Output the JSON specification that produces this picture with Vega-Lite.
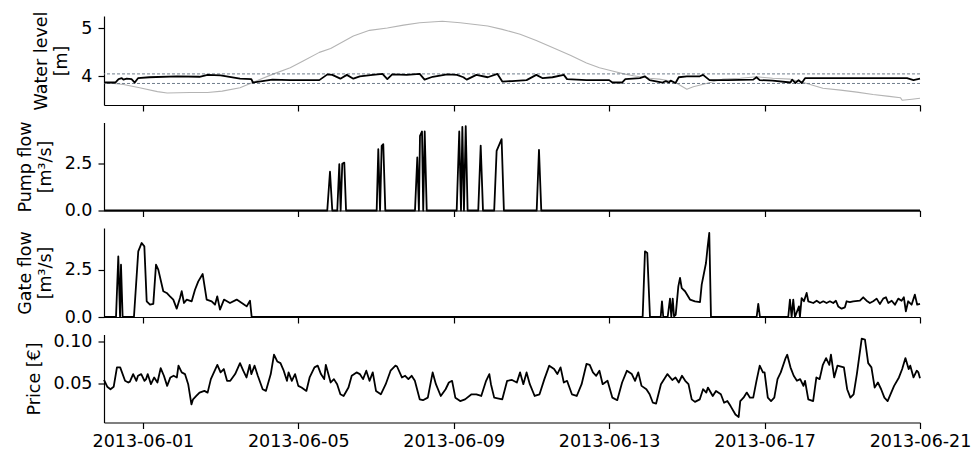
{
  "$schema": "https://vega.github.io/schema/vega-lite/v6.json",
  "background": "white",
  "padding": {"left": 16, "top": 11, "right": 4, "bottom": 2},
  "spacing": 17.5,
  "bounds": "flush",
  "resolve": {"scale": {"x": "independent", "y": "independent"}},
  "config": {
    "font": "DejaVu Sans",
    "view": {"stroke": null},
    "line": {"strokeJoin": "round"},
    "axis": {
      "grid": false,
      "domainColor": "#000",
      "domainWidth": 1.2,
      "tickColor": "#000",
      "tickWidth": 1.2,
      "tickSize": 6,
      "labelFont": "DejaVu Sans",
      "labelFontSize": 17.5,
      "labelColor": "#000",
      "labelPadding": 6,
      "titleFont": "DejaVu Sans",
      "titleFontSize": 17.5,
      "titleFontWeight": "normal",
      "titleColor": "#000",
      "titlePadding": 10,
      "titleLineHeight": 20
    },
    "axisX": {"labelPadding": 4}
  },
  "datasets": {
    "outerLevel": [
      {"t": "2013-05-31T00:00", "level": 3.87},
      {"t": "2013-05-31T12:00", "level": 3.83},
      {"t": "2013-05-31T22:00", "level": 3.76},
      {"t": "2013-06-01T09:00", "level": 3.68},
      {"t": "2013-06-01T15:00", "level": 3.65},
      {"t": "2013-06-02T05:00", "level": 3.66},
      {"t": "2013-06-02T16:00", "level": 3.66},
      {"t": "2013-06-03T01:00", "level": 3.69},
      {"t": "2013-06-03T12:00", "level": 3.76},
      {"t": "2013-06-03T22:00", "level": 3.90},
      {"t": "2013-06-04T08:00", "level": 4.04},
      {"t": "2013-06-04T19:00", "level": 4.18},
      {"t": "2013-06-05T03:00", "level": 4.32},
      {"t": "2013-06-05T13:00", "level": 4.50},
      {"t": "2013-06-05T20:00", "level": 4.58},
      {"t": "2013-06-06T10:00", "level": 4.84},
      {"t": "2013-06-06T20:00", "level": 4.96},
      {"t": "2013-06-07T07:00", "level": 5.01},
      {"t": "2013-06-07T17:00", "level": 5.07},
      {"t": "2013-06-08T03:00", "level": 5.12},
      {"t": "2013-06-08T17:00", "level": 5.15},
      {"t": "2013-06-09T04:00", "level": 5.12},
      {"t": "2013-06-09T21:00", "level": 5.05},
      {"t": "2013-06-10T06:00", "level": 4.98},
      {"t": "2013-06-10T17:00", "level": 4.88},
      {"t": "2013-06-11T03:00", "level": 4.75},
      {"t": "2013-06-11T13:00", "level": 4.60},
      {"t": "2013-06-12T00:00", "level": 4.44},
      {"t": "2013-06-12T10:00", "level": 4.28},
      {"t": "2013-06-12T18:00", "level": 4.18},
      {"t": "2013-06-13T02:00", "level": 4.11},
      {"t": "2013-06-13T09:00", "level": 4.05},
      {"t": "2013-06-13T15:00", "level": 4.01},
      {"t": "2013-06-13T19:00", "level": 3.99},
      {"t": "2013-06-14T01:00", "level": 3.96},
      {"t": "2013-06-14T07:00", "level": 3.94},
      {"t": "2013-06-14T14:00", "level": 3.90},
      {"t": "2013-06-14T18:00", "level": 3.85},
      {"t": "2013-06-15T00:00", "level": 3.73},
      {"t": "2013-06-15T04:00", "level": 3.78},
      {"t": "2013-06-15T12:00", "level": 3.85},
      {"t": "2013-06-15T22:00", "level": 3.94},
      {"t": "2013-06-16T09:00", "level": 3.96},
      {"t": "2013-06-16T19:00", "level": 3.99},
      {"t": "2013-06-17T05:00", "level": 3.96},
      {"t": "2013-06-17T16:00", "level": 3.94},
      {"t": "2013-06-18T00:00", "level": 3.87},
      {"t": "2013-06-18T12:00", "level": 3.75},
      {"t": "2013-06-18T23:00", "level": 3.71},
      {"t": "2013-06-19T09:00", "level": 3.67},
      {"t": "2013-06-19T19:00", "level": 3.62},
      {"t": "2013-06-20T05:00", "level": 3.58},
      {"t": "2013-06-20T12:00", "level": 3.55},
      {"t": "2013-06-20T13:00", "level": 3.50},
      {"t": "2013-06-20T19:00", "level": 3.52},
      {"t": "2013-06-21T00:00", "level": 3.54}
    ],
    "innerLevel": [
      {"t": "2013-05-31T00:00", "level": 3.87},
      {"t": "2013-05-31T07:00", "level": 3.87},
      {"t": "2013-05-31T09:00", "level": 3.94},
      {"t": "2013-05-31T11:00", "level": 3.96},
      {"t": "2013-05-31T12:00", "level": 3.93},
      {"t": "2013-05-31T14:00", "level": 3.95},
      {"t": "2013-05-31T17:00", "level": 3.94},
      {"t": "2013-05-31T19:00", "level": 3.87},
      {"t": "2013-05-31T21:00", "level": 3.96},
      {"t": "2013-06-01T04:00", "level": 3.98},
      {"t": "2013-06-01T21:00", "level": 4.00},
      {"t": "2013-06-02T11:00", "level": 3.99},
      {"t": "2013-06-02T16:00", "level": 4.03},
      {"t": "2013-06-03T00:00", "level": 4.02},
      {"t": "2013-06-03T12:00", "level": 3.95},
      {"t": "2013-06-03T19:00", "level": 3.94},
      {"t": "2013-06-03T20:00", "level": 3.87},
      {"t": "2013-06-04T08:00", "level": 3.93},
      {"t": "2013-06-04T19:00", "level": 3.92},
      {"t": "2013-06-05T13:00", "level": 3.92},
      {"t": "2013-06-05T18:00", "level": 4.04},
      {"t": "2013-06-05T21:00", "level": 4.03},
      {"t": "2013-06-06T02:00", "level": 3.95},
      {"t": "2013-06-06T06:00", "level": 4.03},
      {"t": "2013-06-06T10:00", "level": 3.95},
      {"t": "2013-06-06T14:00", "level": 4.00},
      {"t": "2013-06-06T22:00", "level": 4.03},
      {"t": "2013-06-07T04:00", "level": 4.05},
      {"t": "2013-06-07T07:00", "level": 3.94},
      {"t": "2013-06-07T10:00", "level": 4.04},
      {"t": "2013-06-07T19:00", "level": 4.03},
      {"t": "2013-06-08T03:00", "level": 4.05},
      {"t": "2013-06-08T06:00", "level": 3.93},
      {"t": "2013-06-08T11:00", "level": 3.99},
      {"t": "2013-06-08T20:00", "level": 4.04},
      {"t": "2013-06-09T02:00", "level": 4.03},
      {"t": "2013-06-09T06:00", "level": 3.98},
      {"t": "2013-06-09T08:00", "level": 3.93},
      {"t": "2013-06-09T14:00", "level": 4.03},
      {"t": "2013-06-09T21:00", "level": 3.98},
      {"t": "2013-06-10T03:00", "level": 4.05},
      {"t": "2013-06-10T06:00", "level": 3.89},
      {"t": "2013-06-10T12:00", "level": 3.90},
      {"t": "2013-06-10T21:00", "level": 3.92},
      {"t": "2013-06-11T03:00", "level": 4.03},
      {"t": "2013-06-11T07:00", "level": 3.96},
      {"t": "2013-06-11T13:00", "level": 3.98},
      {"t": "2013-06-11T20:00", "level": 4.03},
      {"t": "2013-06-11T22:00", "level": 3.94},
      {"t": "2013-06-12T10:00", "level": 3.92},
      {"t": "2013-06-13T00:00", "level": 3.92},
      {"t": "2013-06-13T02:00", "level": 3.87},
      {"t": "2013-06-13T08:00", "level": 3.87},
      {"t": "2013-06-13T10:00", "level": 3.94},
      {"t": "2013-06-13T19:00", "level": 3.96},
      {"t": "2013-06-13T22:00", "level": 4.00},
      {"t": "2013-06-14T01:00", "level": 3.92},
      {"t": "2013-06-14T09:00", "level": 3.87},
      {"t": "2013-06-14T11:00", "level": 3.90},
      {"t": "2013-06-14T13:00", "level": 3.87},
      {"t": "2013-06-14T14:00", "level": 3.91},
      {"t": "2013-06-14T17:00", "level": 3.86},
      {"t": "2013-06-14T19:00", "level": 3.98},
      {"t": "2013-06-15T00:00", "level": 4.00},
      {"t": "2013-06-15T08:00", "level": 4.00},
      {"t": "2013-06-15T10:00", "level": 4.03},
      {"t": "2013-06-15T14:00", "level": 3.92},
      {"t": "2013-06-16T01:00", "level": 3.92},
      {"t": "2013-06-16T17:00", "level": 3.93},
      {"t": "2013-06-16T19:00", "level": 3.98},
      {"t": "2013-06-16T21:00", "level": 3.92},
      {"t": "2013-06-17T05:00", "level": 3.91},
      {"t": "2013-06-17T16:00", "level": 3.87},
      {"t": "2013-06-17T17:00", "level": 3.93},
      {"t": "2013-06-17T19:00", "level": 3.86},
      {"t": "2013-06-17T21:00", "level": 3.92},
      {"t": "2013-06-17T23:00", "level": 3.86},
      {"t": "2013-06-18T01:00", "level": 3.96},
      {"t": "2013-06-18T23:00", "level": 3.96},
      {"t": "2013-06-19T19:00", "level": 3.96},
      {"t": "2013-06-20T16:00", "level": 3.96},
      {"t": "2013-06-20T20:00", "level": 3.92},
      {"t": "2013-06-21T00:00", "level": 3.95}
    ],
    "bounds": [
      {"level": 3.85},
      {"level": 4.05}
    ],
    "pump": [
      {"t": "2013-05-31T00:00", "flow": 0},
      {"t": "2013-06-05T17:54", "flow": 0},
      {"t": "2013-06-05T19:35", "flow": 2.07},
      {"t": "2013-06-05T21:00", "flow": 0},
      {"t": "2013-06-06T00:05", "flow": 0},
      {"t": "2013-06-06T01:20", "flow": 2.47},
      {"t": "2013-06-06T02:10", "flow": 0},
      {"t": "2013-06-06T03:10", "flow": 2.50},
      {"t": "2013-06-06T04:25", "flow": 2.56},
      {"t": "2013-06-06T05:30", "flow": 0},
      {"t": "2013-06-07T00:25", "flow": 0},
      {"t": "2013-06-07T01:25", "flow": 3.27},
      {"t": "2013-06-07T02:30", "flow": 0},
      {"t": "2013-06-07T03:30", "flow": 3.45},
      {"t": "2013-06-07T04:30", "flow": 3.54},
      {"t": "2013-06-07T05:45", "flow": 0},
      {"t": "2013-06-08T00:05", "flow": 0},
      {"t": "2013-06-08T01:30", "flow": 2.83},
      {"t": "2013-06-08T02:30", "flow": 0},
      {"t": "2013-06-08T03:10", "flow": 3.99},
      {"t": "2013-06-08T04:25", "flow": 4.22},
      {"t": "2013-06-08T05:10", "flow": 0},
      {"t": "2013-06-08T06:05", "flow": 4.22},
      {"t": "2013-06-08T07:20", "flow": 0},
      {"t": "2013-06-09T01:50", "flow": 0},
      {"t": "2013-06-09T03:25", "flow": 4.22},
      {"t": "2013-06-09T04:30", "flow": 0},
      {"t": "2013-06-09T05:20", "flow": 4.47},
      {"t": "2013-06-09T06:20", "flow": 0},
      {"t": "2013-06-09T07:25", "flow": 4.51},
      {"t": "2013-06-09T08:35", "flow": 0},
      {"t": "2013-06-09T15:10", "flow": 0},
      {"t": "2013-06-09T16:40", "flow": 3.47},
      {"t": "2013-06-09T18:05", "flow": 0},
      {"t": "2013-06-10T01:00", "flow": 0},
      {"t": "2013-06-10T02:30", "flow": 3.18},
      {"t": "2013-06-10T05:35", "flow": 3.81},
      {"t": "2013-06-10T07:00", "flow": 0},
      {"t": "2013-06-11T03:15", "flow": 0},
      {"t": "2013-06-11T04:40", "flow": 3.24},
      {"t": "2013-06-11T06:05", "flow": 0},
      {"t": "2013-06-21T00:00", "flow": 0}
    ],
    "gate": [
      {"t": "2013-05-31T00:00", "flow": 0},
      {"t": "2013-05-31T07:25", "flow": 0},
      {"t": "2013-05-31T08:50", "flow": 3.20},
      {"t": "2013-05-31T09:55", "flow": 0},
      {"t": "2013-05-31T10:30", "flow": 2.76},
      {"t": "2013-05-31T11:30", "flow": 0},
      {"t": "2013-05-31T18:30", "flow": 0},
      {"t": "2013-05-31T21:10", "flow": 3.47},
      {"t": "2013-05-31T23:17", "flow": 3.91},
      {"t": "2013-06-01T00:55", "flow": 3.73},
      {"t": "2013-06-01T02:22", "flow": 0.83},
      {"t": "2013-06-01T04:25", "flow": 0.65},
      {"t": "2013-06-01T06:27", "flow": 0.69},
      {"t": "2013-06-01T08:07", "flow": 2.76},
      {"t": "2013-06-01T09:32", "flow": 2.50},
      {"t": "2013-06-01T12:37", "flow": 1.36},
      {"t": "2013-06-01T14:43", "flow": 1.27},
      {"t": "2013-06-01T16:46", "flow": 1.09},
      {"t": "2013-06-01T18:48", "flow": 0.92},
      {"t": "2013-06-01T20:54", "flow": 0.44},
      {"t": "2013-06-01T22:56", "flow": 1.00},
      {"t": "2013-06-02T00:00", "flow": 1.36},
      {"t": "2013-06-02T01:25", "flow": 0.74},
      {"t": "2013-06-02T03:06", "flow": 0.92},
      {"t": "2013-06-02T06:10", "flow": 0.83},
      {"t": "2013-06-02T08:12", "flow": 1.44},
      {"t": "2013-06-02T10:14", "flow": 1.88},
      {"t": "2013-06-02T12:57", "flow": 2.27},
      {"t": "2013-06-02T15:25", "flow": 0.92},
      {"t": "2013-06-02T18:30", "flow": 0.83},
      {"t": "2013-06-02T20:33", "flow": 0.65},
      {"t": "2013-06-02T21:58", "flow": 1.09},
      {"t": "2013-06-02T23:38", "flow": 0.39},
      {"t": "2013-06-03T02:07", "flow": 0.92},
      {"t": "2013-06-03T05:49", "flow": 0.74},
      {"t": "2013-06-03T09:57", "flow": 0.92},
      {"t": "2013-06-03T14:02", "flow": 0.69},
      {"t": "2013-06-03T16:08", "flow": 0.56},
      {"t": "2013-06-03T18:10", "flow": 0.86},
      {"t": "2013-06-03T19:13", "flow": 0},
      {"t": "2013-06-13T20:42", "flow": 0},
      {"t": "2013-06-13T22:08", "flow": 3.47},
      {"t": "2013-06-13T23:33", "flow": 3.38},
      {"t": "2013-06-14T01:13", "flow": 0},
      {"t": "2013-06-14T07:50", "flow": 0},
      {"t": "2013-06-14T08:38", "flow": 0.83},
      {"t": "2013-06-14T09:26", "flow": 0},
      {"t": "2013-06-14T12:09", "flow": 0},
      {"t": "2013-06-14T13:35", "flow": 0.97},
      {"t": "2013-06-14T14:24", "flow": 0},
      {"t": "2013-06-14T15:16", "flow": 0.97},
      {"t": "2013-06-14T16:04", "flow": 0.04},
      {"t": "2013-06-14T17:07", "flow": 0.12},
      {"t": "2013-06-14T18:44", "flow": 1.62},
      {"t": "2013-06-14T19:47", "flow": 2.06},
      {"t": "2013-06-14T20:50", "flow": 1.53},
      {"t": "2013-06-14T22:52", "flow": 1.36},
      {"t": "2013-06-15T01:57", "flow": 0.92},
      {"t": "2013-06-15T05:02", "flow": 0.83},
      {"t": "2013-06-15T08:07", "flow": 0.79},
      {"t": "2013-06-15T09:10", "flow": 1.71},
      {"t": "2013-06-15T11:49", "flow": 2.85},
      {"t": "2013-06-15T12:52", "flow": 3.73},
      {"t": "2013-06-15T13:51", "flow": 4.44},
      {"t": "2013-06-15T14:54", "flow": 0},
      {"t": "2013-06-16T19:06", "flow": 0},
      {"t": "2013-06-16T20:06", "flow": 0.69},
      {"t": "2013-06-16T21:09", "flow": 0},
      {"t": "2013-06-17T14:38", "flow": 0},
      {"t": "2013-06-17T15:40", "flow": 0.92},
      {"t": "2013-06-17T16:43", "flow": 0},
      {"t": "2013-06-17T17:43", "flow": 0.92},
      {"t": "2013-06-17T18:46", "flow": 0},
      {"t": "2013-06-17T21:14", "flow": 0.56},
      {"t": "2013-06-17T21:50", "flow": 0},
      {"t": "2013-06-17T22:53", "flow": 1.00},
      {"t": "2013-06-18T00:19", "flow": 0.83},
      {"t": "2013-06-18T01:59", "flow": 1.27},
      {"t": "2013-06-18T03:00", "flow": 0.83},
      {"t": "2013-06-18T06:05", "flow": 0.74},
      {"t": "2013-06-18T08:11", "flow": 0.86},
      {"t": "2013-06-18T10:13", "flow": 0.74},
      {"t": "2013-06-18T12:16", "flow": 0.83},
      {"t": "2013-06-18T14:18", "flow": 0.74},
      {"t": "2013-06-18T16:20", "flow": 0.83},
      {"t": "2013-06-18T18:24", "flow": 0.74},
      {"t": "2013-06-18T20:04", "flow": 0.86},
      {"t": "2013-06-18T21:29", "flow": 0.56},
      {"t": "2013-06-18T23:35", "flow": 0.44},
      {"t": "2013-06-19T01:37", "flow": 0.51},
      {"t": "2013-06-19T02:40", "flow": 0.83},
      {"t": "2013-06-19T04:42", "flow": 0.79},
      {"t": "2013-06-19T06:46", "flow": 0.83},
      {"t": "2013-06-19T10:54", "flow": 0.86},
      {"t": "2013-06-19T12:56", "flow": 1.04},
      {"t": "2013-06-19T15:00", "flow": 0.86},
      {"t": "2013-06-19T17:03", "flow": 0.74},
      {"t": "2013-06-19T19:07", "flow": 0.83},
      {"t": "2013-06-19T21:12", "flow": 0.97},
      {"t": "2013-06-19T23:14", "flow": 0.69},
      {"t": "2013-06-20T01:17", "flow": 0.97},
      {"t": "2013-06-20T02:58", "flow": 1.04},
      {"t": "2013-06-20T04:24", "flow": 0.74},
      {"t": "2013-06-20T06:31", "flow": 0.86},
      {"t": "2013-06-20T08:31", "flow": 0.65},
      {"t": "2013-06-20T10:35", "flow": 0.97},
      {"t": "2013-06-20T12:37", "flow": 0.86},
      {"t": "2013-06-20T14:02", "flow": 1.04},
      {"t": "2013-06-20T15:16", "flow": 0.30},
      {"t": "2013-06-20T16:42", "flow": 0.83},
      {"t": "2013-06-20T18:48", "flow": 0.65},
      {"t": "2013-06-20T20:50", "flow": 1.18},
      {"t": "2013-06-20T22:16", "flow": 0.65},
      {"t": "2013-06-21T00:00", "flow": 0.69}
    ],
    "price": [
      {"t": "2013-05-31T00:00", "price": 0.054},
      {"t": "2013-05-31T02:00", "price": 0.046},
      {"t": "2013-05-31T04:00", "price": 0.043},
      {"t": "2013-05-31T06:00", "price": 0.046},
      {"t": "2013-05-31T08:00", "price": 0.069},
      {"t": "2013-05-31T10:00", "price": 0.069},
      {"t": "2013-05-31T13:00", "price": 0.053},
      {"t": "2013-05-31T15:00", "price": 0.051},
      {"t": "2013-05-31T16:00", "price": 0.052},
      {"t": "2013-05-31T18:00", "price": 0.061},
      {"t": "2013-05-31T20:00", "price": 0.053},
      {"t": "2013-05-31T21:00", "price": 0.059},
      {"t": "2013-05-31T23:00", "price": 0.061},
      {"t": "2013-06-01T01:00", "price": 0.053},
      {"t": "2013-06-01T02:00", "price": 0.055},
      {"t": "2013-06-01T03:00", "price": 0.061},
      {"t": "2013-06-01T05:00", "price": 0.049},
      {"t": "2013-06-01T07:00", "price": 0.057},
      {"t": "2013-06-01T09:00", "price": 0.051},
      {"t": "2013-06-01T11:00", "price": 0.068},
      {"t": "2013-06-01T13:00", "price": 0.059},
      {"t": "2013-06-01T15:00", "price": 0.047},
      {"t": "2013-06-01T17:00", "price": 0.057},
      {"t": "2013-06-01T19:00", "price": 0.059},
      {"t": "2013-06-01T21:00", "price": 0.057},
      {"t": "2013-06-01T22:00", "price": 0.071},
      {"t": "2013-06-02T00:00", "price": 0.063},
      {"t": "2013-06-02T02:00", "price": 0.061},
      {"t": "2013-06-02T04:00", "price": 0.049},
      {"t": "2013-06-02T06:00", "price": 0.025},
      {"t": "2013-06-02T07:00", "price": 0.031},
      {"t": "2013-06-02T09:00", "price": 0.035},
      {"t": "2013-06-02T11:00", "price": 0.039},
      {"t": "2013-06-02T14:00", "price": 0.041},
      {"t": "2013-06-02T16:00", "price": 0.039},
      {"t": "2013-06-02T18:00", "price": 0.055},
      {"t": "2013-06-02T22:00", "price": 0.072},
      {"t": "2013-06-03T00:00", "price": 0.063},
      {"t": "2013-06-03T02:00", "price": 0.067},
      {"t": "2013-06-03T04:00", "price": 0.053},
      {"t": "2013-06-03T06:00", "price": 0.053},
      {"t": "2013-06-03T09:00", "price": 0.061},
      {"t": "2013-06-03T12:00", "price": 0.074},
      {"t": "2013-06-03T14:00", "price": 0.065},
      {"t": "2013-06-03T16:00", "price": 0.057},
      {"t": "2013-06-03T18:00", "price": 0.072},
      {"t": "2013-06-03T19:00", "price": 0.061},
      {"t": "2013-06-03T21:00", "price": 0.071},
      {"t": "2013-06-03T23:00", "price": 0.059},
      {"t": "2013-06-04T02:00", "price": 0.043},
      {"t": "2013-06-04T04:00", "price": 0.041},
      {"t": "2013-06-04T07:00", "price": 0.061},
      {"t": "2013-06-04T09:00", "price": 0.084},
      {"t": "2013-06-04T11:00", "price": 0.076},
      {"t": "2013-06-04T13:00", "price": 0.074},
      {"t": "2013-06-04T15:00", "price": 0.065},
      {"t": "2013-06-04T17:00", "price": 0.053},
      {"t": "2013-06-04T18:00", "price": 0.063},
      {"t": "2013-06-04T20:00", "price": 0.053},
      {"t": "2013-06-04T22:00", "price": 0.061},
      {"t": "2013-06-05T00:00", "price": 0.047},
      {"t": "2013-06-05T02:00", "price": 0.045},
      {"t": "2013-06-05T05:00", "price": 0.041},
      {"t": "2013-06-05T07:00", "price": 0.057},
      {"t": "2013-06-05T10:00", "price": 0.069},
      {"t": "2013-06-05T12:00", "price": 0.071},
      {"t": "2013-06-05T14:00", "price": 0.061},
      {"t": "2013-06-05T16:00", "price": 0.055},
      {"t": "2013-06-05T17:00", "price": 0.072},
      {"t": "2013-06-05T20:00", "price": 0.051},
      {"t": "2013-06-05T22:00", "price": 0.055},
      {"t": "2013-06-06T00:00", "price": 0.049},
      {"t": "2013-06-06T02:00", "price": 0.037},
      {"t": "2013-06-06T04:00", "price": 0.035},
      {"t": "2013-06-06T07:00", "price": 0.045},
      {"t": "2013-06-06T09:00", "price": 0.059},
      {"t": "2013-06-06T12:00", "price": 0.063},
      {"t": "2013-06-06T14:00", "price": 0.061},
      {"t": "2013-06-06T16:00", "price": 0.055},
      {"t": "2013-06-06T18:00", "price": 0.065},
      {"t": "2013-06-06T20:00", "price": 0.053},
      {"t": "2013-06-06T22:00", "price": 0.063},
      {"t": "2013-06-07T00:00", "price": 0.041},
      {"t": "2013-06-07T03:00", "price": 0.037},
      {"t": "2013-06-07T06:00", "price": 0.049},
      {"t": "2013-06-07T09:00", "price": 0.065},
      {"t": "2013-06-07T12:00", "price": 0.071},
      {"t": "2013-06-07T13:00", "price": 0.070},
      {"t": "2013-06-07T16:00", "price": 0.057},
      {"t": "2013-06-07T18:00", "price": 0.059},
      {"t": "2013-06-07T20:00", "price": 0.055},
      {"t": "2013-06-07T22:00", "price": 0.059},
      {"t": "2013-06-08T00:00", "price": 0.053},
      {"t": "2013-06-08T03:00", "price": 0.031},
      {"t": "2013-06-08T05:00", "price": 0.030},
      {"t": "2013-06-08T08:00", "price": 0.033},
      {"t": "2013-06-08T11:00", "price": 0.063},
      {"t": "2013-06-08T13:00", "price": 0.049},
      {"t": "2013-06-08T16:00", "price": 0.035},
      {"t": "2013-06-08T19:00", "price": 0.043},
      {"t": "2013-06-08T21:00", "price": 0.051},
      {"t": "2013-06-08T23:00", "price": 0.053},
      {"t": "2013-06-09T01:00", "price": 0.033},
      {"t": "2013-06-09T04:00", "price": 0.029},
      {"t": "2013-06-09T07:00", "price": 0.031},
      {"t": "2013-06-09T11:00", "price": 0.037},
      {"t": "2013-06-09T14:00", "price": 0.037},
      {"t": "2013-06-09T17:00", "price": 0.035},
      {"t": "2013-06-09T20:00", "price": 0.053},
      {"t": "2013-06-09T22:00", "price": 0.061},
      {"t": "2013-06-09T23:00", "price": 0.049},
      {"t": "2013-06-10T01:00", "price": 0.033},
      {"t": "2013-06-10T06:00", "price": 0.031},
      {"t": "2013-06-10T09:00", "price": 0.053},
      {"t": "2013-06-10T12:00", "price": 0.054},
      {"t": "2013-06-10T15:00", "price": 0.051},
      {"t": "2013-06-10T17:00", "price": 0.063},
      {"t": "2013-06-10T19:00", "price": 0.049},
      {"t": "2013-06-10T21:00", "price": 0.063},
      {"t": "2013-06-10T23:00", "price": 0.049},
      {"t": "2013-06-11T02:00", "price": 0.035},
      {"t": "2013-06-11T05:00", "price": 0.037},
      {"t": "2013-06-11T08:00", "price": 0.055},
      {"t": "2013-06-11T11:00", "price": 0.071},
      {"t": "2013-06-11T14:00", "price": 0.067},
      {"t": "2013-06-11T16:00", "price": 0.061},
      {"t": "2013-06-11T18:00", "price": 0.069},
      {"t": "2013-06-11T20:00", "price": 0.051},
      {"t": "2013-06-11T22:00", "price": 0.053},
      {"t": "2013-06-12T01:00", "price": 0.037},
      {"t": "2013-06-12T04:00", "price": 0.035},
      {"t": "2013-06-12T07:00", "price": 0.049},
      {"t": "2013-06-12T10:00", "price": 0.073},
      {"t": "2013-06-12T12:00", "price": 0.072},
      {"t": "2013-06-12T14:00", "price": 0.063},
      {"t": "2013-06-12T16:00", "price": 0.059},
      {"t": "2013-06-12T18:00", "price": 0.065},
      {"t": "2013-06-12T20:00", "price": 0.049},
      {"t": "2013-06-12T23:00", "price": 0.053},
      {"t": "2013-06-13T02:00", "price": 0.033},
      {"t": "2013-06-13T05:00", "price": 0.030},
      {"t": "2013-06-13T08:00", "price": 0.051},
      {"t": "2013-06-13T11:00", "price": 0.065},
      {"t": "2013-06-13T14:00", "price": 0.061},
      {"t": "2013-06-13T16:00", "price": 0.053},
      {"t": "2013-06-13T18:00", "price": 0.063},
      {"t": "2013-06-13T20:00", "price": 0.047},
      {"t": "2013-06-13T23:00", "price": 0.043},
      {"t": "2013-06-14T01:00", "price": 0.037},
      {"t": "2013-06-14T03:00", "price": 0.027},
      {"t": "2013-06-14T05:00", "price": 0.026},
      {"t": "2013-06-14T08:00", "price": 0.049},
      {"t": "2013-06-14T12:00", "price": 0.061},
      {"t": "2013-06-14T15:00", "price": 0.054},
      {"t": "2013-06-14T17:00", "price": 0.057},
      {"t": "2013-06-14T19:00", "price": 0.051},
      {"t": "2013-06-14T21:00", "price": 0.059},
      {"t": "2013-06-14T23:00", "price": 0.053},
      {"t": "2013-06-15T01:00", "price": 0.049},
      {"t": "2013-06-15T03:00", "price": 0.031},
      {"t": "2013-06-15T05:00", "price": 0.028},
      {"t": "2013-06-15T08:00", "price": 0.031},
      {"t": "2013-06-15T10:00", "price": 0.043},
      {"t": "2013-06-15T12:00", "price": 0.039},
      {"t": "2013-06-15T13:00", "price": 0.045},
      {"t": "2013-06-15T16:00", "price": 0.035},
      {"t": "2013-06-15T18:00", "price": 0.041},
      {"t": "2013-06-15T21:00", "price": 0.037},
      {"t": "2013-06-15T23:00", "price": 0.027},
      {"t": "2013-06-16T01:00", "price": 0.029},
      {"t": "2013-06-16T03:00", "price": 0.023},
      {"t": "2013-06-16T06:00", "price": 0.013},
      {"t": "2013-06-16T08:00", "price": 0.010},
      {"t": "2013-06-16T09:00", "price": 0.029},
      {"t": "2013-06-16T11:00", "price": 0.033},
      {"t": "2013-06-16T13:00", "price": 0.039},
      {"t": "2013-06-16T15:00", "price": 0.033},
      {"t": "2013-06-16T17:00", "price": 0.033},
      {"t": "2013-06-16T19:00", "price": 0.053},
      {"t": "2013-06-16T21:00", "price": 0.071},
      {"t": "2013-06-16T23:00", "price": 0.063},
      {"t": "2013-06-17T00:00", "price": 0.063},
      {"t": "2013-06-17T02:00", "price": 0.033},
      {"t": "2013-06-17T04:00", "price": 0.029},
      {"t": "2013-06-17T06:00", "price": 0.033},
      {"t": "2013-06-17T08:00", "price": 0.055},
      {"t": "2013-06-17T10:00", "price": 0.063},
      {"t": "2013-06-17T13:00", "price": 0.080},
      {"t": "2013-06-17T14:00", "price": 0.084},
      {"t": "2013-06-17T16:00", "price": 0.069},
      {"t": "2013-06-17T18:00", "price": 0.059},
      {"t": "2013-06-17T20:00", "price": 0.053},
      {"t": "2013-06-17T22:00", "price": 0.055},
      {"t": "2013-06-18T00:00", "price": 0.047},
      {"t": "2013-06-18T01:00", "price": 0.053},
      {"t": "2013-06-18T03:00", "price": 0.031},
      {"t": "2013-06-18T06:00", "price": 0.029},
      {"t": "2013-06-18T08:00", "price": 0.057},
      {"t": "2013-06-18T10:00", "price": 0.055},
      {"t": "2013-06-18T12:00", "price": 0.072},
      {"t": "2013-06-18T14:00", "price": 0.080},
      {"t": "2013-06-18T16:00", "price": 0.072},
      {"t": "2013-06-18T17:00", "price": 0.084},
      {"t": "2013-06-18T19:00", "price": 0.057},
      {"t": "2013-06-18T21:00", "price": 0.071},
      {"t": "2013-06-19T01:00", "price": 0.069},
      {"t": "2013-06-19T03:00", "price": 0.043},
      {"t": "2013-06-19T05:00", "price": 0.033},
      {"t": "2013-06-19T07:00", "price": 0.037},
      {"t": "2013-06-19T09:00", "price": 0.061},
      {"t": "2013-06-19T12:00", "price": 0.103},
      {"t": "2013-06-19T14:00", "price": 0.102},
      {"t": "2013-06-19T16:00", "price": 0.074},
      {"t": "2013-06-19T18:00", "price": 0.069},
      {"t": "2013-06-19T20:00", "price": 0.045},
      {"t": "2013-06-19T22:00", "price": 0.051},
      {"t": "2013-06-20T00:00", "price": 0.043},
      {"t": "2013-06-20T02:00", "price": 0.033},
      {"t": "2013-06-20T04:00", "price": 0.029},
      {"t": "2013-06-20T08:00", "price": 0.047},
      {"t": "2013-06-20T11:00", "price": 0.057},
      {"t": "2013-06-20T13:00", "price": 0.067},
      {"t": "2013-06-20T15:00", "price": 0.080},
      {"t": "2013-06-20T17:00", "price": 0.067},
      {"t": "2013-06-20T18:00", "price": 0.071},
      {"t": "2013-06-20T20:00", "price": 0.057},
      {"t": "2013-06-20T22:00", "price": 0.065},
      {"t": "2013-06-20T23:00", "price": 0.063},
      {"t": "2013-06-21T00:00", "price": 0.056}
    ]
  },
  "vconcat": [
    {
      "width": 816,
      "height": 89,
      "layer": [
        {
          "data": {"name": "outerLevel"},
          "mark": {"type": "line", "color": "#b4b4b4", "strokeWidth": 1.1},
          "encoding": {
            "x": {"field": "t", "type": "temporal",
                  "scale": {"domain": [{"year": 2013, "month": 5, "date": 31}, {"year": 2013, "month": 6, "date": 21}]},
                  "axis": {"labels": false, "title": null,
                           "values": [{"year": 2013, "month": 6, "date": 1}, {"year": 2013, "month": 6, "date": 5}, {"year": 2013, "month": 6, "date": 9}, {"year": 2013, "month": 6, "date": 13}, {"year": 2013, "month": 6, "date": 17}, {"year": 2013, "month": 6, "date": 21}]}},
            "y": {"field": "level", "type": "quantitative",
                  "scale": {"domain": [3.40, 5.26], "nice": false, "zero": false},
                  "axis": {"values": [4, 5], "format": "d", "title": ["Water level", "[m]"]}}
          }
        },
        {
          "data": {"name": "bounds"},
          "mark": {"type": "rule", "color": "#6f7d8c", "strokeWidth": 1, "strokeDash": [3, 2]},
          "encoding": {
            "y": {"field": "level", "type": "quantitative",
                  "scale": {"domain": [3.40, 5.26], "nice": false, "zero": false}}
          }
        },
        {
          "data": {"name": "innerLevel"},
          "mark": {"type": "line", "color": "#000", "strokeWidth": 1.8},
          "encoding": {
            "x": {"field": "t", "type": "temporal",
                  "scale": {"domain": [{"year": 2013, "month": 5, "date": 31}, {"year": 2013, "month": 6, "date": 21}]}},
            "y": {"field": "level", "type": "quantitative",
                  "scale": {"domain": [3.40, 5.26], "nice": false, "zero": false}}
          }
        }
      ]
    },
    {
      "width": 816,
      "height": 88,
      "data": {"name": "pump"},
      "mark": {"type": "line", "color": "#000", "strokeWidth": 1.8},
      "encoding": {
        "x": {"field": "t", "type": "temporal",
              "scale": {"domain": [{"year": 2013, "month": 5, "date": 31}, {"year": 2013, "month": 6, "date": 21}]},
              "axis": {"labels": false, "title": null,
                       "values": [{"year": 2013, "month": 6, "date": 1}, {"year": 2013, "month": 6, "date": 5}, {"year": 2013, "month": 6, "date": 9}, {"year": 2013, "month": 6, "date": 13}, {"year": 2013, "month": 6, "date": 17}, {"year": 2013, "month": 6, "date": 21}]}},
        "y": {"field": "flow", "type": "quantitative",
              "scale": {"domain": [0, 4.7], "nice": false},
              "axis": {"values": [0, 2.5], "format": ".1f", "title": ["Pump flow", "[m³/s]"]}}
      }
    },
    {
      "width": 816,
      "height": 89,
      "data": {"name": "gate"},
      "mark": {"type": "line", "color": "#000", "strokeWidth": 1.8},
      "encoding": {
        "x": {"field": "t", "type": "temporal",
              "scale": {"domain": [{"year": 2013, "month": 5, "date": 31}, {"year": 2013, "month": 6, "date": 21}]},
              "axis": {"labels": false, "title": null,
                       "values": [{"year": 2013, "month": 6, "date": 1}, {"year": 2013, "month": 6, "date": 5}, {"year": 2013, "month": 6, "date": 9}, {"year": 2013, "month": 6, "date": 13}, {"year": 2013, "month": 6, "date": 17}, {"year": 2013, "month": 6, "date": 21}]}},
        "y": {"field": "flow", "type": "quantitative",
              "scale": {"domain": [0, 4.7], "nice": false},
              "axis": {"values": [0, 2.5], "format": ".1f", "title": ["Gate flow", "[m³/s]"]}}
      }
    },
    {
      "width": 816,
      "height": 88,
      "data": {"name": "price"},
      "mark": {"type": "line", "color": "#000", "strokeWidth": 1.8},
      "encoding": {
        "x": {"field": "t", "type": "temporal",
              "scale": {"domain": [{"year": 2013, "month": 5, "date": 31}, {"year": 2013, "month": 6, "date": 21}]},
              "axis": {"title": null, "format": "%Y-%m-%d", "labelFlush": false, "labelOverlap": false,
                       "values": [{"year": 2013, "month": 6, "date": 1}, {"year": 2013, "month": 6, "date": 5}, {"year": 2013, "month": 6, "date": 9}, {"year": 2013, "month": 6, "date": 13}, {"year": 2013, "month": 6, "date": 17}, {"year": 2013, "month": 6, "date": 21}]}},
        "y": {"field": "price", "type": "quantitative",
              "scale": {"domain": [0.0035, 0.108], "nice": false, "zero": false},
              "axis": {"values": [0.05, 0.1], "format": ".2f", "title": "Price [€]"}}
      }
    }
  ]
}
